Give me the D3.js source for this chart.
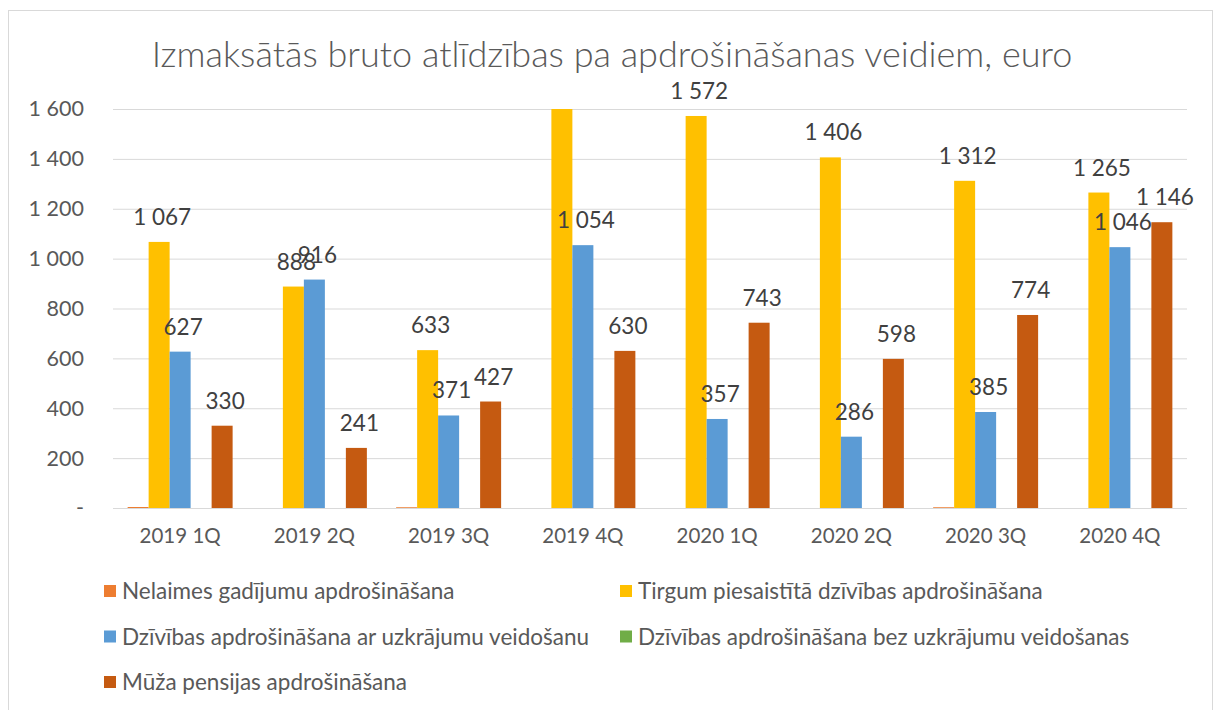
<html>
  <head>
    <script src="https://d3js.org/d3.v7.min.js"></script>
    <title>Atlīdzības</title>
    <style>
      body { margin: 0; background: #fff; }
      text { font-family: Lato, sans-serif; fill: #595959; }
      .title { font-size: 36px; font-weight: 300; }
      .axis text { font-size: 21.5px; }
      .x.axis text { font-size: 20.5px; }
      .label { font-size: 22.5px; fill: #404040; }
      .legend text { font-size: 22.5px; }
      .gridlines line { stroke: #d9d9d9; }
      .gridlines .domain { stroke: none; }
    </style>
  </head>
  <body>
    <svg id="chart" width="1216" height="710"></svg>
    <script>
      const quarters = ["2019 1Q", "2019 2Q", "2019 3Q", "2019 4Q", "2020 1Q", "2020 2Q", "2020 3Q", "2020 4Q"];
      const seriesNames = [
        "Nelaimes gadījumu apdrošināšana",
        "Tirgum piesaistītā dzīvības apdrošināšana",
        "Dzīvības apdrošināšana ar uzkrājumu veidošanu",
        "Dzīvības apdrošināšana bez uzkrājumu veidošanas",
        "Mūža pensijas apdrošināšana"
      ];
      const nelaimes = [4, 0, 3, 0, 0, 0, 3, 0];
      const tirgum = [1067, 888, 633, 1700, 1572, 1406, 1312, 1265];
      const arUzkr = [627, 916, 371, 1054, 357, 286, 385, 1046];
      const bezUzkr = [0, 0, 0, 0, 0, 0, 0, 0];
      const muzaPens = [330, 241, 427, 630, 743, 598, 774, 1146];
      const yTicks = [0, 200, 400, 600, 800, 1000, 1200, 1400, 1600];
      const colors = ["#ED7D31", "#FFC000", "#5B9BD5", "#70AD47", "#C55A11"];
      const showLabels = [false, true, true, false, true];

      const values = [nelaimes, tirgum, arUzkr, bezUzkr, muzaPens];

      const svg = d3.select("svg#chart");
      const margin = {"top": 109, "right": 29, "bottom": 202, "left": 113};
      const width = +svg.attr("width");
      const height = +svg.attr("height");
      const chartWidth = width - margin.left - margin.right;
      const chartHeight = height - margin.top - margin.bottom;

      // chart border
      svg.append("rect")
        .attr("x", 8.5).attr("y", 10.5)
        .attr("width", 1204).attr("height", 720)
        .attr("fill", "none").attr("stroke", "#d9d9d9");

      svg.append("text")
        .attr("class", "title")
        .attr("x", 612).attr("y", 67)
        .attr("text-anchor", "middle")
        .text("Izmaksātās bruto atlīdzības pa apdrošināšanas veidiem, euro");

      const xScale = d3.scaleBand().domain(quarters).range([0, chartWidth])
        .paddingInner(0.218).paddingOuter(0.109);
      const seriesScale = d3.scaleBand().domain(d3.range(seriesNames.length))
        .range([0, xScale.bandwidth()]);
      const yScale = d3.scaleLinear().domain([0, 1600]).range([chartHeight, 0]).clamp(true);

      const fmt = v => v === 0 ? "-" : d3.format(",")(v).replace(/,/g, " ");

      const chart = svg.append("g").attr("transform", "translate(" + margin.left + "," + margin.top + ")");

      // gridlines
      chart.append("g").attr("class", "gridlines")
        .call(d3.axisLeft(yScale).tickValues(yTicks).tickSize(-chartWidth).tickFormat(""));

      // y tick labels
      const yAxis = chart.append("g").attr("class", "y axis")
        .call(d3.axisLeft(yScale).tickValues(yTicks).tickSize(0).tickPadding(29).tickFormat(fmt));
      yAxis.select(".domain").remove();

      // x axis labels
      const xAxis = chart.append("g").attr("class", "x axis")
        .attr("transform", "translate(0," + chartHeight + ")")
        .call(d3.axisBottom(xScale).tickSize(0).tickPadding(20));
      xAxis.select(".domain").remove();

      const rows = [];
      values.forEach((arr, s) => arr.forEach((v, i) => rows.push({s: s, q: quarters[i], v: v})));

      chart.selectAll("rect.bar").data(rows)
        .join("rect")
          .attr("class", "bar")
          .attr("x", d => xScale(d.q) + seriesScale(d.s))
          .attr("y", d => yScale(d.v))
          .attr("width", seriesScale.bandwidth())
          .attr("height", d => chartHeight - yScale(d.v))
          .attr("fill", d => colors[d.s]);

      // labels hidden for values beyond the axis maximum, like the original
      chart.selectAll("text.label").data(rows.filter(d => showLabels[d.s] && d.v <= 1600))
        .join("text")
          .attr("class", "label")
          .attr("text-anchor", "middle")
          .attr("x", d => xScale(d.q) + seriesScale(d.s) + seriesScale.bandwidth() / 2 + 3)
          .attr("y", d => yScale(d.v) - 17)
          .text(d => fmt(d.v));

      // legend
      const legend = svg.append("g").attr("class", "legend");
      const items = legend.selectAll("g").data(seriesNames)
        .join("g")
          .attr("transform", (d, i) => "translate(" + (i % 2 === 0 ? 104 : 620) + "," + (591 + Math.floor(i / 2) * 45.5) + ")");
      items.append("rect")
        .attr("x", 0).attr("y", -6).attr("width", 12).attr("height", 12)
        .attr("fill", (d, i) => colors[i]);
      items.append("text")
        .attr("x", 18).attr("y", 8)
        .text(d => d);
    </script>
  </body>
</html>
